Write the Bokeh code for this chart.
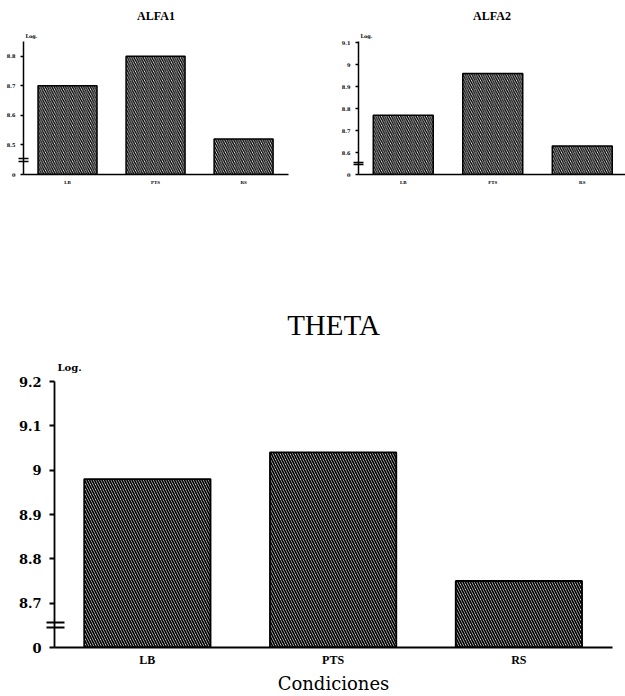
from bokeh.plotting import figure
from bokeh.layouts import column, row
from bokeh.models import Range1d, FixedTicker, Title
from bokeh.embed import file_html
from bokeh.resources import INLINE

# ---- data ----
categories = ["LB", "PTS", "RS"]
alfa1_values = [8.70, 8.80, 8.52]
alfa2_values = [8.77, 8.96, 8.63]
theta_values = [8.98, 9.04, 8.75]

alfa1_ticks = [8.4, 8.5, 8.6, 8.7, 8.8]
alfa1_tick_labels = ["0", "8.5", "8.6", "8.7", "8.8"]
alfa2_ticks = [8.5, 8.6, 8.7, 8.8, 8.9, 9.0, 9.1]
alfa2_tick_labels = ["0", "8.6", "8.7", "8.8", "8.9", "9", "9.1"]
theta_ticks = [8.6, 8.7, 8.8, 8.9, 9.0, 9.1, 9.2]
theta_tick_labels = ["0", "8.7", "8.8", "8.9", "9", "9.1", "9.2"]


def make_panel(title, values, ticks, tick_labels, y_end, x_end, width, height,
               mb_left, mb_right, mb_top, mb_bottom, s):
    xs = [i + 0.5 for i in range(len(categories))]
    p = figure(width=width, height=height, output_backend="svg", toolbar_location=None,
               x_range=Range1d(0, x_end), y_range=Range1d(ticks[0], y_end),
               min_border_left=mb_left, min_border_right=mb_right,
               min_border_top=mb_top, min_border_bottom=mb_bottom)
    p.outline_line_color = None
    p.xgrid.visible = False
    p.ygrid.visible = False
    p.background_fill_color = "white"
    p.border_fill_color = "white"

    p.vbar(x=xs, top=values, bottom=ticks[0], width=s["bar_w"],
           fill_color="white", line_color="black", line_width=s["bar_lw"],
           hatch_pattern="left_diagonal_line", hatch_color="black",
           hatch_scale=s["hatch_scale"], hatch_weight=s["hatch_w"])

    # main title (outermost)
    p.title.text = title
    p.title.align = "center"
    p.title.text_font = s["title_font"]
    p.title.text_font_size = s["title_size"]
    p.title.text_font_style = s["title_style"]
    p.title.text_color = "black"
    p.title.standoff = s["title_standoff"]

    # "Log." unit note right above the y axis (closest to the frame)
    log_note = Title(text="Log.", align="left", offset=s["log_dx"],
                     text_font="DejaVu Serif", text_font_style="bold",
                     text_font_size=s["log_size"], text_color="black",
                     standoff=s["log_standoff"])
    p.add_layout(log_note, "above")

    # break mark on the y axis, drawn as two minor ticks between "0" and the first tick
    frame_h = height - mb_top - mb_bottom
    unit_per_px = (y_end - ticks[0]) / frame_h
    brk = (ticks[0] + ticks[1]) / 2
    gap = s["break_gap"] * unit_per_px / 2

    ya = p.yaxis[0]
    ya.ticker = FixedTicker(ticks=ticks, minor_ticks=[brk - gap, brk + gap])
    ya.major_label_overrides = {t: l for t, l in zip(ticks, tick_labels)}
    ya.axis_line_width = s["axis_lw"]
    ya.axis_line_color = "black"
    ya.major_tick_line_width = s["axis_lw"]
    ya.major_tick_line_color = "black"
    ya.major_tick_in = 0
    ya.major_tick_out = s["tick_out"]
    ya.minor_tick_line_color = "black"
    ya.minor_tick_line_width = s["axis_lw"]
    ya.minor_tick_in = s["break_in"]
    ya.minor_tick_out = s["break_out"]
    ya.major_label_text_font = "DejaVu Serif"
    ya.major_label_text_font_style = "bold"
    ya.major_label_text_font_size = s["ytick_size"]
    ya.major_label_text_color = "black"
    ya.major_label_standoff = s["ytick_standoff"]

    xa = p.xaxis[0]
    xa.ticker = FixedTicker(ticks=xs)
    xa.major_label_overrides = {x: c for x, c in zip(xs, categories)}
    xa.axis_line_width = s["axis_lw"]
    xa.axis_line_color = "black"
    xa.major_tick_in = 0
    xa.major_tick_out = 0
    xa.minor_tick_line_color = None
    xa.major_label_text_font = "Liberation Serif"
    xa.major_label_text_font_style = "bold"
    xa.major_label_text_font_size = s["xtick_size"]
    xa.major_label_text_color = "black"
    xa.major_label_standoff = s["xtick_standoff"]
    return p


small = dict(bar_w=0.67, bar_lw=1.5, hatch_scale=4.5, hatch_w=1.4,
             title_font="Liberation Serif", title_size="12px", title_style="bold",
             title_standoff=12, axis_lw=1.5, tick_out=3, ytick_size="5px", ytick_standoff=3,
             xtick_size="5px", xtick_standoff=5, log_dx=2, log_size="5px", log_standoff=5,
             break_gap=3, break_in=5, break_out=5)

p1 = make_panel("ALFA1", alfa1_values, alfa1_ticks, alfa1_tick_labels, 8.85, 3.01,
                300, 200, 23, 12, 39, 26, small)
p2 = make_panel("ALFA2", alfa2_values, alfa2_ticks, alfa2_tick_labels, 9.105, 2.983,
                325, 200, 58, 0, 39, 26, small)

big = dict(bar_w=0.68, bar_lw=1.8, hatch_scale=5, hatch_w=1.7,
           title_font="Liberation Serif", title_size="29px", title_style="normal",
           title_standoff=20, axis_lw=1.8, tick_out=5, ytick_size="13px", ytick_standoff=5,
           xtick_size="12px", xtick_standoff=5, log_dx=3, log_size="10px", log_standoff=18,
           break_gap=5, break_in=10, break_out=8)

p3 = make_panel("THETA", theta_values, theta_ticks, theta_tick_labels, 9.2, 3.004,
                625, 496, 54, 13, 181, 48, big)
p3.xaxis[0].axis_label = "Condiciones"
p3.xaxis[0].axis_label_text_font = "DejaVu Serif"
p3.xaxis[0].axis_label_text_font_style = "normal"
p3.xaxis[0].axis_label_text_font_size = "18px"
p3.xaxis[0].axis_label_text_color = "black"
p3.xaxis[0].axis_label_standoff = 3

layout = column(row(p1, p2), p3)
open("out.html", "w").write(file_html(layout, INLINE))
